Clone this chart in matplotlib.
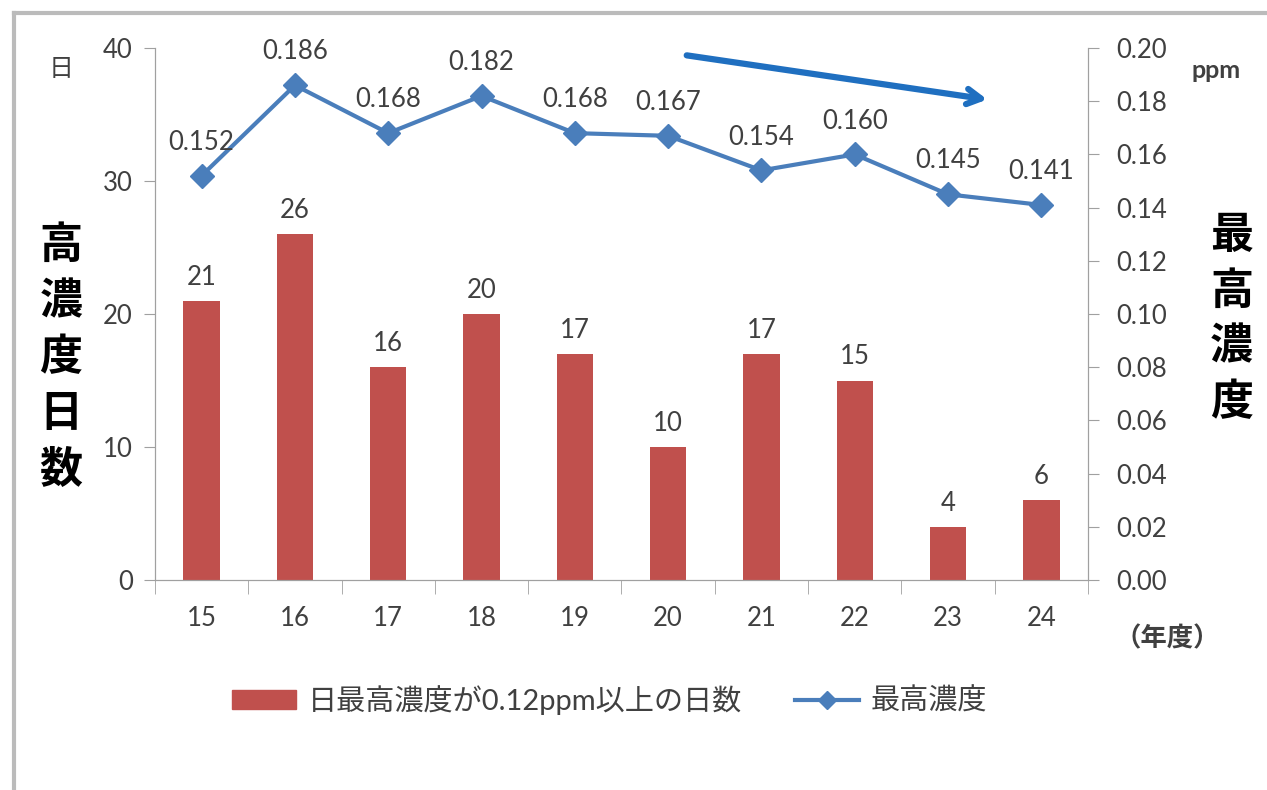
import numpy as np
import matplotlib.pyplot as plt
from matplotlib.lines import Line2D
from matplotlib.patches import Patch

plt.rcParams['font.family'] = ['Lato', 'Noto Sans CJK JP', 'DejaVu Sans']

nendo = ['15', '16', '17', '18', '19', '20', '21', '22', '23', '24']
nissu = [21, 26, 16, 20, 17, 10, 17, 15, 4, 6]
saiko = [0.152, 0.186, 0.168, 0.182, 0.168, 0.167, 0.154, 0.160, 0.145, 0.141]

aka = '#C0504D'
ao = '#4A7EBB'
gray = '#404040'

fig = plt.figure(figsize=(12.67, 7.9), dpi=100)
ax = fig.add_axes([0.1223, 0.2658, 0.7364, 0.6734])
ax2 = ax.twinx()

x = np.arange(len(nendo))
ax.bar(x, nissu, width=0.39, color=aka, zorder=2)
for xi, v in zip(x, nissu):
    ax.annotate(str(v), (xi, v), xytext=(0, 8), textcoords='offset points',
                ha='center', va='bottom', fontsize=18.5, color=gray)

ax2.plot(x, saiko, color=ao, lw=3, marker='D', ms=12, zorder=3)
for xi, v in zip(x, saiko):
    ax2.annotate(f'{v:.3f}', (xi, v), xytext=(0, 15), textcoords='offset points',
                 ha='center', va='bottom', fontsize=18.5, color=gray)

ax.set_xlim(-0.5, len(nendo) - 0.5)
ax.set_ylim(0, 40)
ax.set_yticks([0, 10, 20, 30, 40])
ax2.set_ylim(0, 0.20)
ax2.set_yticks(np.arange(0, 0.201, 0.02))
ax2.set_yticklabels([f'{t:.2f}' for t in np.arange(0, 0.201, 0.02)])

ax.set_xticks(x)
ax.set_xticklabels(nendo)
ax.set_xticks(np.arange(-0.5, len(nendo)), minor=True)
ax.tick_params(axis='x', which='major', length=0, pad=19, labelsize=18.5, labelcolor=gray)
ax.tick_params(axis='x', which='minor', length=10, color='#A0A0A0')
ax.tick_params(axis='y', length=8, color='#A0A0A0', labelsize=18.5, labelcolor=gray, pad=8)
ax2.tick_params(axis='y', length=8, color='#A0A0A0', labelsize=18.5, labelcolor=gray, pad=12)

for a in (ax, ax2):
    a.spines['top'].set_visible(False)
    for s in ('left', 'right', 'bottom'):
        a.spines[s].set_color('#A0A0A0')

# trend arrow
ax2.annotate('', xy=(8.45, 0.1805), xytext=(5.17, 0.1974),
             arrowprops=dict(arrowstyle='->,head_length=1.0,head_width=0.55',
                             color='#1F6FC0', lw=4.5))

# side labels
fig.text(0.048, 0.548, '\n'.join('高濃度日数'), fontsize=31, fontweight='bold',
         ha='center', va='center', linespacing=1.47, color='black')
fig.text(0.972, 0.597, '\n'.join('最高濃度'), fontsize=31, fontweight='bold',
         ha='center', va='center', linespacing=1.45, color='black')
fig.text(0.048, 0.913, '日', fontsize=18, ha='center', va='center', color=gray)
fig.text(0.96, 0.911, 'ppm', fontsize=18, fontweight='bold', ha='center', va='center', color=gray)
fig.text(0.921, 0.193, '（年度）', fontsize=19, fontweight='bold', ha='center', va='center',
         color=gray)

handles = [Patch(color=aka, label='日最高濃度が0.12ppm以上の日数'),
           Line2D([0], [0], color=ao, lw=3, marker='D', ms=9, label='最高濃度')]
fig.legend(handles=handles, loc='center', bbox_to_anchor=(0.481, 0.114), ncol=2,
           frameon=False, fontsize=21, handlelength=2.2, handleheight=0.6,
           handletextpad=0.4, columnspacing=1.8, labelcolor=gray)

# outer frame
fig.add_artist(Line2D([0.0107, 0.0107], [0, 0.984], color='#BBBBBB', lw=3,
                      transform=fig.transFigure))
fig.add_artist(Line2D([0.0107, 1], [0.984, 0.984], color='#BBBBBB', lw=3,
                      transform=fig.transFigure))

fig.savefig('out.png', dpi=100)
